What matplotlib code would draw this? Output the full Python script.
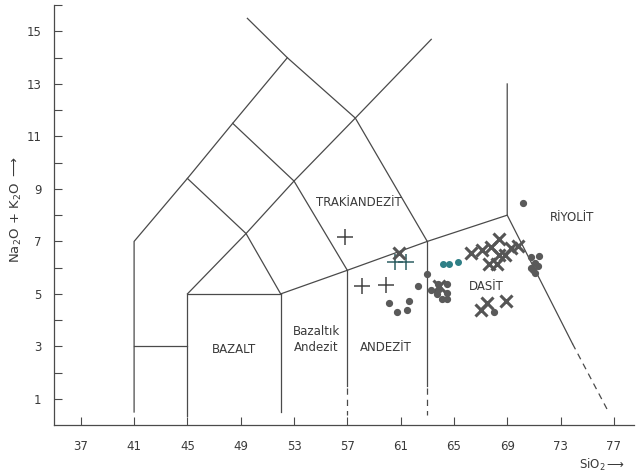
import matplotlib.pyplot as plt

# TAS field boundaries (SiO2, Na2O+K2O), solid polylines
boundaries = [
    [(41, 0.5), (41, 7), (45, 9.4), (48.4, 11.5), (52.5, 14)],
    [(41, 3), (45, 3)],
    [(45, 0.35), (45, 5), (52, 5)],
    [(52, 0.5), (52, 5)],
    [(45, 5), (49.4, 7.3), (53, 9.3), (57.6, 11.7), (63.3, 14.7)],
    [(45, 9.4), (49.4, 7.3), (52, 5)],
    [(48.4, 11.5), (53, 9.3), (57, 5.9)],
    [(49.5, 15.5), (52.5, 14), (57.6, 11.7), (63, 7)],
    [(52, 5), (57, 5.9), (63, 7), (69, 8)],
    [(57, 5.9), (57, 1.5)],
    [(63, 7), (63, 1.5)],
    [(69, 13), (69, 8), (73.9, 3.1)],
]
dashed = [
    [(57, 1.4), (57, 0.4)],
    [(63, 1.4), (63, 0.4)],
    [(73.9, 3.1), (76.5, 0.6)],
]

# samples
plus_x = [56.8, 58.1, 59.9]
plus_y = [7.15, 5.3, 5.33]
plus_teal_x = [60.6, 61.4]
plus_teal_y = [6.2, 6.2]

cross_x = [60.9, 63.9, 66.3, 67.1, 67.8, 68.4, 68.4, 68.8, 69.3, 69.8,
           67.6, 68.2, 67.5, 67.0, 68.9]
cross_y = [6.55, 5.3, 6.55, 6.67, 6.78, 7.08, 6.5, 6.5, 6.74, 6.82,
           6.13, 6.13, 4.65, 4.38, 4.73]

dot_x = [63.0, 62.3, 61.6, 60.1, 60.7, 61.5, 63.3, 63.8, 64.5, 63.9, 63.7,
         64.5, 64.1, 64.5, 68.0, 70.8, 71.4, 71.1, 70.8, 71.3, 70.9, 71.1, 70.2]
dot_y = [5.75, 5.3, 4.73, 4.65, 4.3, 4.38, 5.14, 5.37, 5.37, 5.18, 5.0,
         5.03, 4.8, 4.8, 4.3, 6.4, 6.44, 6.17, 5.98, 6.06, 5.9, 5.79, 8.45]
dot_teal_x = [64.2, 64.6, 65.3]
dot_teal_y = [6.13, 6.13, 6.2]

labels = ['TRAKİANDEZİT', 'RİYOLİT', 'DASİT', 'ANDEZİT', 'Bazaltık\nAndezit', 'BAZALT']
label_x = [57.9, 73.9, 67.4, 59.9, 54.7, 48.5]
label_y = [8.5, 7.9, 5.3, 2.95, 3.28, 2.9]

line_col = '#4a4a4a'
txt_col = '#3a3a3a'

fig = plt.figure(figsize=(6.37, 4.75), dpi=100)
ax = fig.add_axes([0.085, 0.105, 0.91, 0.884])

for seg in boundaries:
    xs, ys = zip(*seg)
    ax.plot(xs, ys, color=line_col, lw=0.9)
for seg in dashed:
    xs, ys = zip(*seg)
    ax.plot(xs, ys, color=line_col, lw=0.9, dashes=(5, 4))

ax.plot(plus_x, plus_y, '+', color='#444444', ms=11, mew=1.1, ls='none')
ax.plot(plus_teal_x, plus_teal_y, '+', color='#2f5f63', ms=11, mew=1.1, ls='none')
ax.plot(cross_x, cross_y, 'x', color='#555555', ms=8.5, mew=2.2, ls='none')
ax.plot(dot_x, dot_y, 'o', color='#5a5a5a', ms=4.2, ls='none')
ax.plot(dot_teal_x, dot_teal_y, 'o', color='#2f7f86', ms=4, ls='none')

for t, x, y in zip(labels, label_x, label_y):
    ax.text(x, y, t, ha='center', va='center', fontsize=8.5, color=txt_col,
            linespacing=1.3)

ax.set_xlim(35, 78.5)
ax.set_ylim(0, 16)
ax.set_xticks(range(37, 78, 4))
ax.set_yticks(range(1, 16, 2))
ax.set_yticks(range(2, 17, 2), minor=True)
ax.tick_params(axis='both', direction='in', length=6, width=0.8,
               colors=line_col, labelcolor=txt_col, labelsize=8.5)
ax.tick_params(axis='x', pad=11)
ax.tick_params(axis='y', pad=9)
ax.tick_params(axis='y', which='minor', direction='in', length=6, width=0.8,
               colors=line_col)
for s in ['top', 'right']:
    ax.spines[s].set_visible(False)
for s in ['left', 'bottom']:
    ax.spines[s].set_color(line_col)
    ax.spines[s].set_linewidth(0.9)

fig.text(0.026, 0.558, r'Na$_2$O + K$_2$O $\longrightarrow$', rotation=90,
         ha='center', va='center', fontsize=9.5, color=txt_col)
fig.text(0.945, 0.022, r'SiO$_2$$\longrightarrow$', ha='center', va='center',
         fontsize=8.5, color=txt_col)

fig.savefig('out.png', dpi=100)
